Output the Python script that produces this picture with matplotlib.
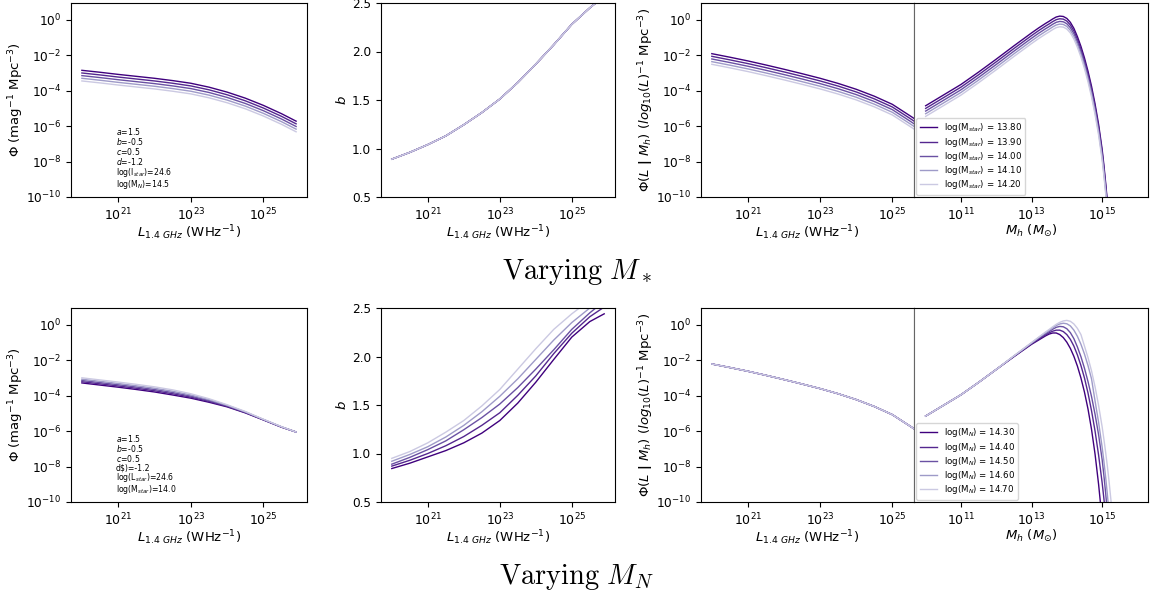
import matplotlib
matplotlib.use("Agg")
import matplotlib.pyplot as plt

plt.rcParams['font.size'] = 9.5
plt.rcParams['xtick.labelsize'] = 9
plt.rcParams['ytick.labelsize'] = 8.7
plt.rcParams['axes.labelpad'] = 1.5

# log10 grids
logL = [20, 20.5, 21, 21.5, 22, 22.5, 23, 23.5, 24, 24.5, 25, 25.5, 25.9]
logMh = [10, 10.5, 11, 11.5, 12, 12.5, 13, 13.2, 13.4, 13.5, 13.6, 13.7, 13.8, 13.9, 14.0,
         14.1, 14.2, 14.3, 14.4, 14.5, 14.6, 14.7, 14.8, 14.9, 15.0, 15.05, 15.1, 15.15, 15.2,
         15.25, 15.3]

mstar_vals = [13.80, 13.90, 14.00, 14.10, 14.20]
mn_vals = [14.30, 14.40, 14.50, 14.60, 14.70]
colors = ['#3f007d', '#54278f', '#6a51a3', '#9e9ac8', '#cbc9e2']

# ---- varying M_star ----
lf_mstar = [
    [-2.85, -2.96, -3.08, -3.19, -3.30, -3.43, -3.58, -3.80, -4.08, -4.42, -4.83, -5.30, -5.72],
    [-3.00, -3.11, -3.23, -3.34, -3.45, -3.58, -3.73, -3.95, -4.23, -4.57, -4.98, -5.45, -5.87],
    [-3.15, -3.26, -3.38, -3.49, -3.60, -3.73, -3.88, -4.10, -4.38, -4.72, -5.13, -5.60, -6.02],
    [-3.30, -3.41, -3.53, -3.64, -3.75, -3.88, -4.03, -4.25, -4.53, -4.87, -5.28, -5.75, -6.17],
    [-3.45, -3.56, -3.68, -3.79, -3.90, -4.03, -4.18, -4.40, -4.68, -5.02, -5.43, -5.90, -6.32],
]
b_mstar = [
    [0.89, 0.96, 1.04, 1.13, 1.245, 1.37, 1.51, 1.68, 1.87, 2.07, 2.28, 2.45, 2.57],
    [0.89, 0.96, 1.04, 1.13, 1.245, 1.37, 1.51, 1.68, 1.87, 2.07, 2.28, 2.45, 2.57],
    [0.89, 0.96, 1.04, 1.13, 1.245, 1.37, 1.51, 1.68, 1.87, 2.07, 2.28, 2.45, 2.57],
    [0.89, 0.96, 1.04, 1.13, 1.245, 1.37, 1.51, 1.68, 1.87, 2.07, 2.28, 2.45, 2.57],
    [0.89, 0.96, 1.04, 1.13, 1.245, 1.37, 1.51, 1.68, 1.87, 2.07, 2.28, 2.45, 2.57],
]
cond_L_mstar = [
    [-1.91, -2.11, -2.32, -2.55, -2.79, -3.04, -3.30, -3.59, -3.92, -4.31, -4.77, -5.43, -5.97],
    [-2.06, -2.26, -2.47, -2.70, -2.94, -3.19, -3.45, -3.74, -4.07, -4.46, -4.92, -5.58, -6.12],
    [-2.21, -2.41, -2.62, -2.85, -3.09, -3.34, -3.60, -3.89, -4.22, -4.61, -5.07, -5.73, -6.27],
    [-2.36, -2.56, -2.77, -3.00, -3.24, -3.49, -3.75, -4.04, -4.37, -4.76, -5.22, -5.88, -6.42],
    [-2.51, -2.71, -2.92, -3.15, -3.39, -3.64, -3.90, -4.19, -4.52, -4.91, -5.37, -6.03, -6.57],
]
cond_M_mstar = [
    [-4.85, -4.25, -3.65, -2.95, -2.22, -1.47, -0.74, -0.46, -0.20, -0.08, 0.05, 0.16, 0.21, 0.19, 0.08,
     -0.14, -0.48, -0.95, -1.50, -2.15, -2.90, -3.75, -4.75, -5.90, -7.30, -8.20, -9.20, -10.3, -11.5,
     -12.8, -14.2],
    [-5.00, -4.40, -3.80, -3.10, -2.37, -1.62, -0.89, -0.61, -0.35, -0.23, -0.10, 0.01, 0.06, 0.04, -0.07,
     -0.29, -0.63, -1.10, -1.65, -2.30, -3.05, -3.90, -4.90, -6.05, -7.45, -8.35, -9.35, -10.4, -11.6,
     -12.9, -14.3],
    [-5.15, -4.55, -3.95, -3.25, -2.52, -1.77, -1.04, -0.76, -0.50, -0.38, -0.25, -0.14, -0.09, -0.11, -0.22,
     -0.44, -0.78, -1.25, -1.80, -2.45, -3.20, -4.05, -5.05, -6.20, -7.60, -8.50, -9.50, -10.6, -11.8,
     -13.1, -14.5],
    [-5.30, -4.70, -4.10, -3.40, -2.67, -1.92, -1.19, -0.91, -0.65, -0.53, -0.40, -0.29, -0.24, -0.26, -0.37,
     -0.59, -0.93, -1.40, -1.95, -2.60, -3.35, -4.20, -5.20, -6.35, -7.75, -8.65, -9.65, -10.7, -11.9,
     -13.2, -14.6],
    [-5.45, -4.85, -4.25, -3.55, -2.82, -2.07, -1.34, -1.06, -0.80, -0.68, -0.55, -0.44, -0.39, -0.41, -0.52,
     -0.74, -1.08, -1.55, -2.10, -2.75, -3.50, -4.35, -5.35, -6.50, -7.90, -8.80, -9.80, -10.9, -12.1,
     -13.4, -14.8],
]

# ---- varying M_N ----
lf_mn = [
    [-3.28, -3.40, -3.52, -3.65, -3.79, -3.96, -4.14, -4.37, -4.63, -4.97, -5.37, -5.78, -6.05],
    [-3.21, -3.33, -3.45, -3.58, -3.72, -3.89, -4.08, -4.32, -4.60, -4.95, -5.36, -5.77, -6.05],
    [-3.14, -3.26, -3.38, -3.51, -3.65, -3.82, -4.02, -4.27, -4.57, -4.93, -5.35, -5.76, -6.05],
    [-3.07, -3.19, -3.31, -3.44, -3.58, -3.75, -3.96, -4.22, -4.54, -4.91, -5.34, -5.76, -6.05],
    [-2.99, -3.11, -3.23, -3.36, -3.50, -3.67, -3.89, -4.17, -4.51, -4.89, -5.33, -5.75, -6.05],
]
b_mn = [
    [0.845, 0.90, 0.965, 1.03, 1.11, 1.21, 1.34, 1.52, 1.735, 1.97, 2.20, 2.36, 2.44],
    [0.87, 0.93, 1.00, 1.08, 1.175, 1.29, 1.42, 1.60, 1.80, 2.03, 2.24, 2.41, 2.51],
    [0.89, 0.96, 1.04, 1.13, 1.245, 1.37, 1.51, 1.68, 1.87, 2.07, 2.28, 2.45, 2.57],
    [0.92, 0.99, 1.07, 1.17, 1.29, 1.43, 1.59, 1.77, 1.97, 2.17, 2.35, 2.50, 2.62],
    [0.95, 1.02, 1.11, 1.22, 1.34, 1.49, 1.66, 1.87, 2.08, 2.28, 2.44, 2.58, 2.68],
]
cond_L_mn = [
    [-2.21, -2.41, -2.62, -2.85, -3.09, -3.34, -3.60, -3.89, -4.22, -4.61, -5.07, -5.73, -6.27],
    [-2.21, -2.41, -2.62, -2.85, -3.09, -3.34, -3.60, -3.89, -4.22, -4.61, -5.07, -5.73, -6.27],
    [-2.21, -2.41, -2.62, -2.85, -3.09, -3.34, -3.60, -3.89, -4.22, -4.61, -5.07, -5.73, -6.27],
    [-2.21, -2.41, -2.62, -2.85, -3.09, -3.34, -3.60, -3.89, -4.22, -4.61, -5.07, -5.73, -6.27],
    [-2.21, -2.41, -2.62, -2.85, -3.09, -3.34, -3.60, -3.89, -4.22, -4.61, -5.07, -5.73, -6.27],
]
cond_M_mn = [
    [-5.15, -4.55, -3.95, -3.25, -2.52, -1.80, -1.10, -0.86, -0.62, -0.52, -0.46, -0.46, -0.55, -0.72, -0.98,
     -1.33, -1.78, -2.33, -3.00, -3.80, -4.75, -5.90, -7.30, -9.00, -11.0, -12.1, -13.3, -14.5, -15.8,
     -17.2, -18.7],
    [-5.15, -4.55, -3.95, -3.25, -2.52, -1.78, -1.07, -0.81, -0.56, -0.45, -0.36, -0.30, -0.30, -0.38, -0.55,
     -0.82, -1.20, -1.70, -2.30, -3.00, -3.85, -4.85, -6.00, -7.35, -8.90, -9.80, -10.8, -11.9, -13.0,
     -14.2, -15.5],
    [-5.15, -4.55, -3.95, -3.25, -2.52, -1.77, -1.04, -0.76, -0.50, -0.38, -0.25, -0.14, -0.09, -0.11, -0.22,
     -0.44, -0.78, -1.25, -1.80, -2.45, -3.20, -4.05, -5.05, -6.20, -7.60, -8.50, -9.50, -10.6, -11.8,
     -13.1, -14.5],
    [-5.15, -4.55, -3.95, -3.25, -2.52, -1.76, -1.02, -0.72, -0.44, -0.31, -0.17, -0.04, 0.05, 0.09, 0.06,
     -0.06, -0.30, -0.65, -1.10, -1.65, -2.30, -3.05, -4.30, -5.50, -6.90, -7.70, -8.60, -9.60, -10.7,
     -11.9, -13.2],
    [-5.15, -4.55, -3.95, -3.25, -2.52, -1.75, -1.00, -0.70, -0.40, -0.26, -0.11, 0.03, 0.14, 0.22, 0.25,
     0.20, 0.05, -0.20, -0.55, -1.20, -1.85, -2.60, -3.50, -4.55, -5.75, -6.45, -7.20, -8.00, -8.90,
     -9.90, -11.0],
]

W, H = 1154, 599
fig = plt.figure(figsize=(W / 100, H / 100), dpi=100)


def box(x0, y0, x1, y1):
    return fig.add_axes([x0 / W, 1 - y1 / H, (x1 - x0) / W, (y1 - y0) / H])


Lx = [10 ** v for v in logL]
Mx = [10 ** v for v in logMh]
xlab_L = r'$L_{1.4\ GHz}$ (WHz$^{-1}$)'
decades = [1e-10, 1e-8, 1e-6, 1e-4, 1e-2, 1]


def draw_row(top, lf, bb, cl, cm, labels, note):
    bot = top + 194
    a1 = box(71, top, 307, bot)
    a2 = box(381, top, 615, bot)
    a3 = box(701, top, 914, bot)
    a4 = box(914, top, 1148, bot)
    for i in range(5):
        a1.plot(Lx, [10 ** v for v in lf[i]], color=colors[i], lw=1)
        a2.plot(Lx, bb[i], color=colors[i], lw=1)
        a3.plot(Lx, [10 ** v for v in cl[i]], color=colors[i], lw=1)
        a4.plot(Mx, [10 ** v for v in cm[i]], color=colors[i], lw=1, label=labels[i])

    for a in (a1, a3, a4):
        a.set_yscale('log')
        a.set_ylim(1e-10, 10 ** 0.95)
    for a in (a1, a2, a3):
        a.set_xscale('log')
        a.set_xlim(10 ** 19.7, 10 ** 26.2)
        a.set_xlabel(xlab_L, labelpad=0)
        a.set_xticks([1e21, 1e23, 1e25])
    a3.set_xlim(10 ** 19.7, 10 ** 25.6)
    a2.set_ylim(0.5, 2.5)
    a2.set_yticks([0.5, 1.0, 1.5, 2.0, 2.5])

    a4.set_xscale('log')
    a4.set_xlim(10 ** 9.67, 10 ** 16.3)
    a4.set_xticks([1e11, 1e13, 1e15])
    a4.set_yticks([])
    for a in (a1, a2, a3, a4):
        a.minorticks_off()
    a1.set_yticks(decades)
    a3.set_yticks(decades)

    a1.set_ylabel(r'$\Phi$ (mag$^{-1}$ Mpc$^{-3}$)', labelpad=0)
    a2.set_ylabel(r'$b$', labelpad=2)
    a3.set_ylabel(r'$\Phi(L$ $\mathbf{|}$ $M_h)$ $(log_{10}(L)^{-1}$ Mpc$^{-3}$)', labelpad=0)
    a4.set_xlabel(r'$M_h$ ($M_{\odot}$)', labelpad=0)
    a3.spines['right'].set_color('0.4')
    a4.spines['left'].set_color('0.4')

    a1.text(0.19, 0.05, note, transform=a1.transAxes, fontsize=5.6, linespacing=0.9)
    a4.legend(loc='lower left', fontsize=6.2, labelspacing=0.15, borderaxespad=0.25,
              handlelength=2.0)


draw_row(3, lf_mstar, b_mstar, cond_L_mstar, cond_M_mstar,
         [r'log(M$_{star}$) = %.2f' % v for v in mstar_vals],
         '$a$=1.5\n$b$=-0.5\n$c$=0.5\n$d$=-1.2\nlog(l$_{star}$)=24.6\nlog(M$_N$)=14.5')
fig.text(0.5, 1 - 272 / H, r'$\mathrm{Varying}\ M_*$', ha='center', va='center',
         fontsize=20.5, math_fontfamily='cm')

draw_row(308, lf_mn, b_mn, cond_L_mn, cond_M_mn,
         [r'log(M$_N$) = %.2f' % v for v in mn_vals],
         '$a$=1.5\n$b$=-0.5\n$c$=0.5\nd\\$)=-1.2\nlog(L$_{star}$)=24.6\nlog(M$_{star}$)=14.0')
fig.text(0.5, 1 - 577 / H, r'$\mathrm{Varying}\ M_N$', ha='center', va='center',
         fontsize=20.5, math_fontfamily='cm')

fig.savefig('out.png', dpi=100)
